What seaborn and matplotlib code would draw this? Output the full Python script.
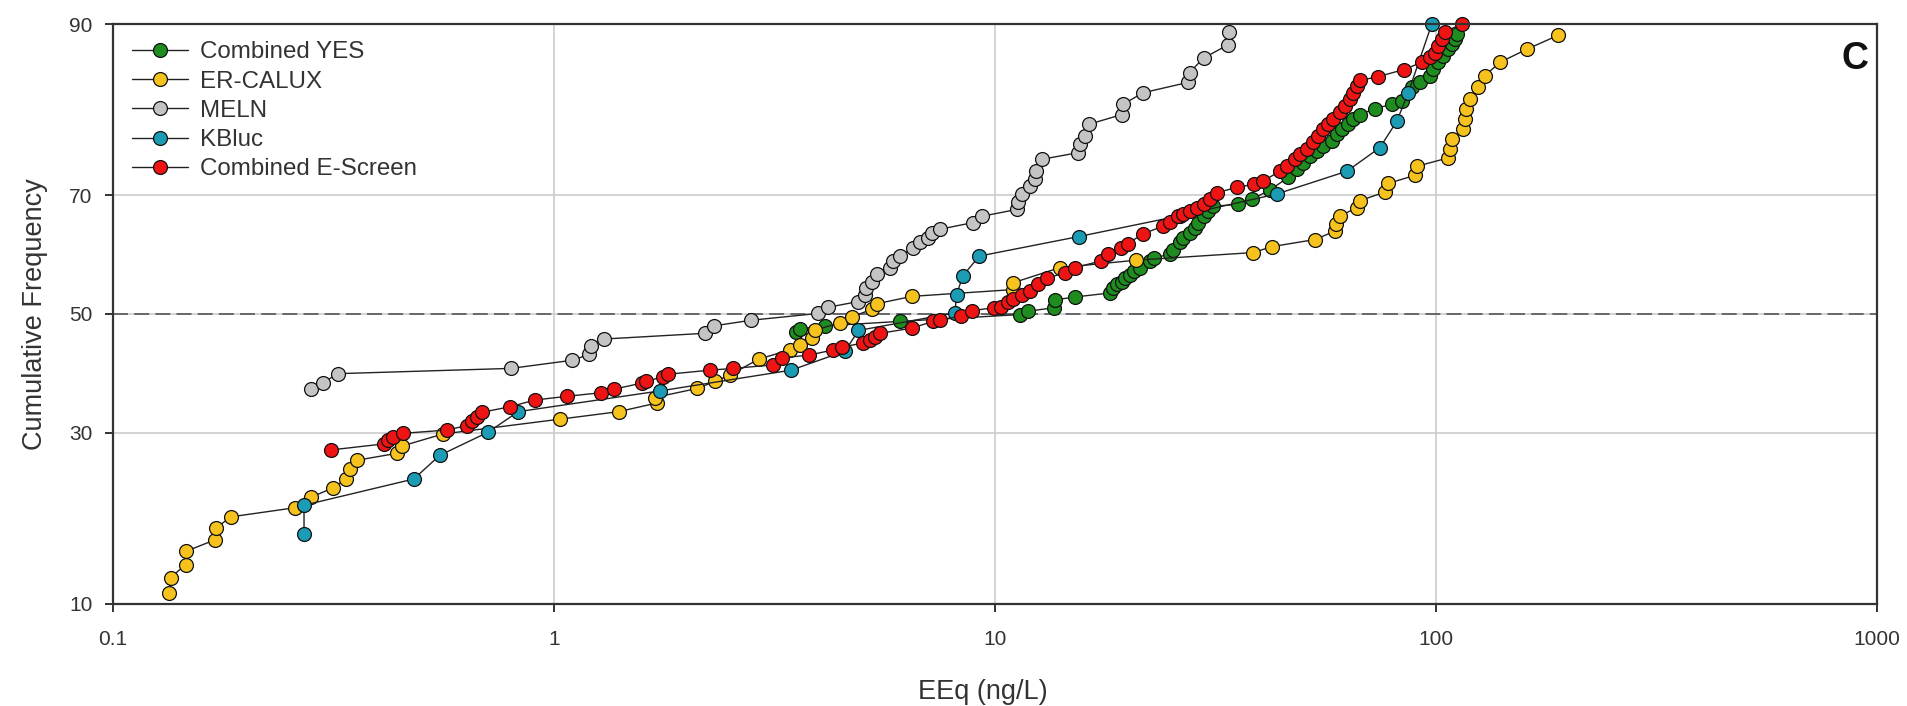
from statistics import NormalDist

import numpy as np
import pandas as pd
import seaborn as sns
import matplotlib.pyplot as plt
from matplotlib.ticker import NullLocator

# ---- data: EEq (ng/L) vs cumulative frequency (%) ----
yes_eeq = [3.54, 3.61, 4.12, 6.09, 11.4, 11.9, 13.6, 13.7, 15.2, 18.2, 18.5, 18.9,
           19.4, 19.7, 20.2, 20.7, 21.3, 22.5, 22.9, 24.9, 25.3, 26.3, 26.7, 27.7,
           28.4, 28.8, 29.7, 30.4, 31.2, 35.6, 38.2, 42.0, 46.2, 48.3, 50.0, 51.8,
           53.6, 55.5, 58.0, 59.5, 61.1, 63.2, 64.9, 67.2, 72.7, 79.4, 83.6, 88.1,
           92.0, 96.9, 98.6, 101.2, 103.9, 106.7, 108.5, 110.5, 111.4]
yes_freq = [46.8, 47.4, 47.9, 48.7, 49.9, 50.5, 51.1, 52.5, 53.0, 53.7, 54.6, 55.2,
            55.7, 56.3, 56.9, 57.5, 58.1, 59.2, 59.8, 60.4, 61.2, 62.4, 63.2, 64.0,
            64.8, 65.7, 66.7, 67.5, 68.3, 68.6, 69.4, 70.8, 72.7, 73.9, 74.8, 75.8,
            76.4, 77.1, 77.8, 78.7, 79.3, 79.9, 80.5, 81.1, 81.8, 82.3, 82.7, 84.2,
            84.7, 85.4, 86.1, 86.7, 87.3, 87.9, 88.4, 88.8, 89.2]

calux_eeq = [0.134, 0.135, 0.146, 0.146, 0.170, 0.171, 0.185, 0.259, 0.281, 0.315,
             0.338, 0.345, 0.357, 0.440, 0.453, 0.560, 1.03, 1.40, 1.71, 1.69,
             2.11, 2.32, 2.51, 2.91, 3.43, 3.61, 3.84, 3.91, 4.45, 4.73,
             5.25, 5.39, 6.47, 11.0, 11.0, 14.0, 20.9, 38.5, 42.4, 53.2,
             59.0, 59.3, 60.4, 66.1, 67.3, 76.6, 77.8, 89.6, 90.4, 106.7,
             107.6, 108.5, 115.3, 116.2, 117.2, 119.4, 124.7, 129.1, 139.6, 160.6,
             189.3]
calux_freq = [10.9, 12.2, 13.4, 14.7, 15.9, 17.2, 18.5, 19.6, 20.9, 22.1,
              23.3, 24.6, 25.9, 26.9, 28.0, 29.8, 32.1, 33.3, 34.7, 35.6,
              37.1, 38.3, 39.4, 42.1, 43.7, 44.6, 45.8, 47.2, 48.4, 49.5,
              50.8, 51.8, 53.1, 54.3, 55.5, 58.1, 59.4, 60.7, 61.7, 62.9,
              64.3, 65.5, 66.8, 68.0, 69.2, 70.5, 71.8, 73.0, 74.3, 75.5,
              76.7, 78.0, 79.3, 80.5, 81.7, 82.9, 84.2, 85.4, 86.7, 87.9,
              89.1]

meln_eeq = [0.281, 0.300, 0.323, 0.798, 1.10, 1.20, 1.21, 1.30, 2.20, 2.30,
            2.80, 3.97, 4.19, 4.90, 5.07, 5.11, 5.25, 5.39, 5.78, 5.88,
            6.09, 6.53, 6.76, 7.06, 7.20, 7.50, 8.93, 9.33, 11.2, 11.3,
            11.5, 12.0, 12.3, 12.4, 12.8, 15.4, 15.6, 16.0, 16.3, 19.4,
            19.5, 21.7, 27.4, 27.6, 29.7, 33.8, 34.0]
meln_freq = [37.0, 38.1, 39.6, 40.5, 41.9, 42.9, 44.4, 45.6, 46.6, 47.9,
             48.9, 50.1, 51.2, 52.2, 53.4, 54.6, 55.7, 57.1, 58.1, 59.2,
             60.1, 61.5, 62.4, 63.2, 64.0, 64.6, 65.7, 66.7, 67.8, 68.9,
             70.2, 71.4, 72.4, 73.6, 75.3, 76.2, 77.4, 78.4, 79.9, 81.1,
             82.3, 83.6, 84.7, 85.7, 87.1, 88.3, 89.4]

kbluc_eeq = [0.271, 0.271, 0.481, 0.550, 0.710, 0.829, 1.74, 3.45, 4.57, 4.90,
             8.11, 8.18, 8.45, 9.21, 15.5, 26.3, 43.5, 62.8, 74.6, 81.5,
             86.5, 97.8]
kbluc_freq = [16.5, 19.9, 23.3, 26.6, 30.1, 33.3, 36.7, 40.2, 43.5, 47.1,
              50.2, 53.4, 56.7, 60.1, 63.4, 66.8, 70.2, 73.6, 76.9, 80.3,
              83.6, 90.0]

escreen_eeq = [0.312, 0.412, 0.420, 0.432, 0.455, 0.571, 0.634, 0.653, 0.669, 0.686,
               0.795, 0.906, 1.07, 1.28, 1.37, 1.58, 1.62, 1.77, 1.81, 2.26,
               2.55, 3.14, 3.28, 3.79, 4.30, 4.49, 5.03, 5.21, 5.35, 5.49,
               6.47, 7.24, 7.50, 8.37, 8.87, 9.95, 10.3, 10.7, 11.0, 11.5,
               12.0, 12.5, 13.1, 14.4, 15.2, 17.4, 18.0, 19.3, 20.0, 21.6,
               24.0, 24.9, 26.0, 26.7, 27.7, 28.7, 29.7, 30.7, 31.8, 35.3,
               38.7, 40.6, 44.3, 45.9, 47.9, 49.2, 50.9, 52.7, 54.1, 55.5,
               57.0, 58.5, 60.6, 62.2, 63.8, 64.9, 66.1, 67.3, 74.0, 84.6,
               92.8, 96.9, 99.5, 101.2, 103.0, 104.8, 114.4]
escreen_freq = [27.4, 28.3, 28.9, 29.3, 29.9, 30.4, 31.1, 31.8, 32.5, 33.2,
                34.1, 35.2, 35.8, 36.4, 37.0, 38.0, 38.3, 39.1, 39.5, 40.2,
                40.5, 41.1, 42.3, 42.8, 43.7, 44.2, 44.9, 45.5, 46.0, 46.6,
                47.5, 48.7, 49.0, 49.6, 50.6, 51.1, 51.3, 52.1, 52.7, 53.3,
                54.1, 55.2, 56.3, 57.2, 58.1, 59.3, 60.4, 61.4, 62.2, 63.8,
                65.1, 65.8, 66.7, 67.0, 67.6, 68.1, 68.6, 69.5, 70.4, 71.2,
                71.7, 72.2, 73.6, 74.3, 75.3, 76.0, 76.7, 77.6, 78.4, 79.3,
                79.9, 80.5, 81.4, 82.1, 82.9, 83.6, 84.3, 84.9, 85.3, 86.0,
                86.7, 87.2, 87.6, 88.2, 88.8, 89.4, 90.0]

assays = ["Combined YES", "ER-CALUX", "MELN", "KBluc", "Combined E-Screen"]
colors = ["#1e8c1e", "#f5c21e", "#c4c4c4", "#1c9cb4", "#ee1414"]

x_ticks = [0.1, 1, 10, 100, 1000]
x_tick_labels = ["0.1", "1", "10", "100", "1000"]
y_ticks = [10, 30, 50, 70, 90]


def build_frame():
    """Stack the series into one long table"""
    pairs = [(yes_eeq, yes_freq), (calux_eeq, calux_freq), (meln_eeq, meln_freq),
             (kbluc_eeq, kbluc_freq), (escreen_eeq, escreen_freq)]
    frames = []
    for name, (xs, ys) in zip(assays, pairs):
        frames.append(pd.DataFrame({"EEq": xs, "freq": ys, "assay": name}))
    return pd.concat(frames, ignore_index=True)


# normal probability scale for the y axis
_nd = NormalDist()
_ppf = np.vectorize(_nd.inv_cdf, otypes=[float])
_cdf = np.vectorize(_nd.cdf, otypes=[float])


def prob_forward(p):
    q = np.asarray(p, dtype=float) / 100.0
    bad = ~np.isfinite(q)
    q = np.clip(np.where(bad, 0.5, q), 1e-9, 1 - 1e-9)
    out = _ppf(q)
    return np.where(bad, np.nan, out)


def prob_inverse(z):
    z = np.asarray(z, dtype=float)
    bad = ~np.isfinite(z)
    out = _cdf(np.where(bad, 0.0, z)) * 100.0
    return np.where(bad, np.nan, out)


sns.set_theme(style="ticks")
plt.rcParams["font.family"] = ["Liberation Sans", "DejaVu Sans"]

df = build_frame()

fig = plt.figure(figsize=(19.07, 7.06), dpi=100)
ax = fig.add_axes([0.0593, 0.1445, 0.925, 0.8215])

for name, col in zip(assays, colors):
    sub = df[df["assay"] == name]
    sns.lineplot(
        data=sub, x="EEq", y="freq", ax=ax,
        estimator=None, sort=False, label=name,
        color="#222222", linewidth=1.0,
        marker="o", markersize=10, markerfacecolor=col,
        markeredgecolor="#111111", markeredgewidth=0.9,
        clip_on=False,
    )

ax.set_xscale("log")
ax.set_yscale("function", functions=(prob_forward, prob_inverse))
ax.set_xlim(0.1, 1000)
ax.set_ylim(10, 90)
ax.set_xticks(x_ticks, labels=x_tick_labels)
ax.set_yticks(y_ticks, labels=[str(t) for t in y_ticks])
ax.xaxis.set_minor_locator(NullLocator())
ax.yaxis.set_minor_locator(NullLocator())

ax.set_axisbelow(True)
ax.grid(True, color="#cccccc", linewidth=1.2)
ax.axhline(50, color="#555555", linewidth=1.2, ls=(0, (9, 3.7)), zorder=1.5)

for s in ax.spines.values():
    s.set_visible(True)
    s.set_color("#333333")
    s.set_linewidth(1.6)

ax.tick_params(axis="both", direction="out", length=6, width=1.4,
               color="#333333", labelsize=15, labelcolor="#333333")
ax.tick_params(axis="x", pad=13)
ax.tick_params(axis="y", pad=9)

ax.set_xlabel("EEq (ng/L)", fontsize=19.5, color="#333333")
ax.set_ylabel("Cumulative Frequency", fontsize=19.5, color="#333333")
ax.xaxis.set_label_coords(0.493, -0.13)
ax.yaxis.set_label_coords(-0.037, 0.5)

ax.text(0.9875, 0.94, "C", transform=ax.transAxes, ha="center", va="center",
        fontsize=27, fontweight="bold", color="#111111")

ax.legend(loc="upper left", bbox_to_anchor=(0.0108, 0.970), frameon=False,
          fontsize=17.4, borderpad=0, borderaxespad=0, labelspacing=0.3,
          handlelength=2.3, handletextpad=0.5, labelcolor="#333333")

fig.savefig("out.png", dpi=100)
plt.close(fig)
